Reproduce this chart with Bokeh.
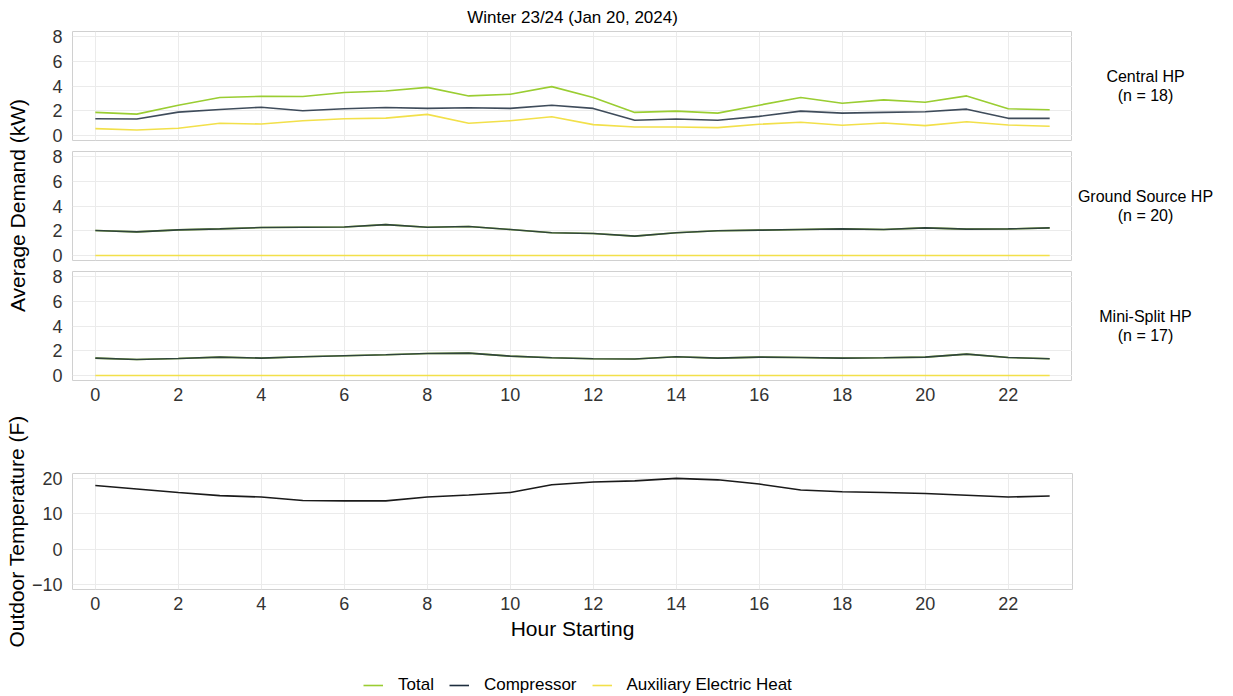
from bokeh.plotting import figure
from bokeh.layouts import column, row
from bokeh.models import Range1d, FixedTicker, Label, Legend, LegendItem, Title
from bokeh.embed import file_html
from bokeh.resources import INLINE

# ---------------- data ----------------
hours = [0, 1, 2, 3, 4, 5, 6, 7, 8, 9, 10, 11, 12, 13, 14, 15, 16, 17, 18, 19, 20, 21, 22, 23]

central_total = [1.87, 1.73, 2.45, 3.07, 3.17, 3.15, 3.47, 3.60, 3.89, 3.20, 3.33, 3.95,
                 3.07, 1.87, 1.97, 1.81, 2.45, 3.07, 2.61, 2.88, 2.69, 3.20, 2.16, 2.08]
central_comp = [1.36, 1.33, 1.89, 2.10, 2.29, 2.00, 2.16, 2.27, 2.19, 2.24, 2.19, 2.45,
                2.19, 1.23, 1.33, 1.23, 1.55, 1.97, 1.81, 1.87, 1.92, 2.13, 1.39, 1.39]
central_aux = [0.56, 0.45, 0.59, 0.99, 0.93, 1.20, 1.36, 1.41, 1.71, 0.99, 1.20, 1.52,
               0.88, 0.69, 0.69, 0.64, 0.91, 1.07, 0.83, 1.01, 0.80, 1.12, 0.85, 0.75]

ground_total = [2.02, 1.91, 2.07, 2.15, 2.26, 2.29, 2.31, 2.50, 2.29, 2.34, 2.10, 1.84,
                1.78, 1.57, 1.84, 2.00, 2.05, 2.10, 2.15, 2.10, 2.23, 2.13, 2.15, 2.23]
ground_comp = [2.02, 1.91, 2.07, 2.15, 2.26, 2.29, 2.31, 2.50, 2.29, 2.34, 2.10, 1.84,
               1.78, 1.57, 1.84, 2.00, 2.05, 2.10, 2.15, 2.10, 2.23, 2.13, 2.15, 2.23]
ground_aux = [0.0, 0.0, 0.0, 0.0, 0.0, 0.0, 0.0, 0.0, 0.0, 0.0, 0.0, 0.0,
              0.0, 0.0, 0.0, 0.0, 0.0, 0.0, 0.0, 0.0, 0.0, 0.0, 0.0, 0.0]

mini_total = [1.41, 1.30, 1.38, 1.49, 1.41, 1.52, 1.60, 1.68, 1.78, 1.81, 1.57, 1.44,
              1.36, 1.33, 1.52, 1.41, 1.49, 1.46, 1.41, 1.44, 1.49, 1.73, 1.46, 1.36]
mini_comp = [1.41, 1.30, 1.38, 1.49, 1.41, 1.52, 1.60, 1.68, 1.78, 1.81, 1.57, 1.44,
             1.36, 1.33, 1.52, 1.41, 1.49, 1.46, 1.41, 1.44, 1.49, 1.73, 1.46, 1.36]
mini_aux = [0.0, 0.0, 0.0, 0.0, 0.0, 0.0, 0.0, 0.0, 0.0, 0.0, 0.0, 0.0,
            0.0, 0.0, 0.0, 0.0, 0.0, 0.0, 0.0, 0.0, 0.0, 0.0, 0.0, 0.0]

outdoor_temp = [18.1, 17.1, 16.1, 15.2, 14.8, 13.8, 13.7, 13.7, 14.8, 15.4, 16.1, 18.3,
                19.1, 19.4, 20.1, 19.7, 18.5, 16.8, 16.3, 16.1, 15.8, 15.3, 14.8, 15.1]

panel_names = ["Central HP\n(n = 18)", "Ground Source HP\n(n = 20)", "Mini-Split HP\n(n = 17)"]
series_names = ["Total", "Compressor", "Auxiliary Electric Heat"]
hour_ticks = [0, 2, 4, 6, 8, 10, 12, 14, 16, 18, 20, 22]
kw_ticks = [0, 2, 4, 6, 8]
temp_ticks = [-10, 0, 10, 20]
title_text = "Winter 23/24 (Jan 20, 2024)"

# ---------------- style ----------------
FONT = "Liberation Sans"
C_TOTAL = "#9acd32"
C_COMP = "#1d2d3e"
C_AUX = "#f2e04a"
C_TEMP = "#1a1a1a"
GRID = "#ebebeb"
BORDER = "#d0d0d0"
TICK_COLOR = "#333333"
LW = 1.6

x_range = Range1d(-0.55, 23.55)


def style(p, show_x=True):
    p.outline_line_color = BORDER
    p.outline_line_width = 1
    p.background_fill_color = "white"
    p.border_fill_color = "white"
    for g in p.xgrid + p.ygrid:
        g.grid_line_color = GRID
        g.grid_line_width = 1
    for ax in p.xaxis + p.yaxis:
        ax.axis_line_color = None
        ax.major_tick_line_color = None
        ax.minor_tick_line_color = None
        ax.major_tick_out = 0
        ax.major_tick_in = 0
        ax.minor_tick_out = 0
        ax.minor_tick_in = 0
        ax.major_label_text_font = FONT
        ax.major_label_text_font_size = "18px"
        ax.major_label_text_color = TICK_COLOR
        ax.axis_label_text_font = FONT
        ax.axis_label_text_font_size = "21px"
        ax.axis_label_text_font_style = "normal"
        ax.axis_label_text_color = "black"
    p.xaxis.ticker = FixedTicker(ticks=hour_ticks)
    p.xaxis.major_label_standoff = 7
    p.yaxis.major_label_standoff = 10
    if not show_x:
        p.xaxis.visible = False


def demand_panel(total, comp, aux, name, height, top, bottom, show_x):
    yr = Range1d(-0.4, 8.4)
    p = figure(width=1042, height=height, x_range=x_range, y_range=yr,
               toolbar_location=None, output_backend="svg",
               min_border_left=42, min_border_right=0,
               min_border_top=top, min_border_bottom=bottom)
    p.line(hours, total, line_color=C_TOTAL, line_width=LW)
    p.line(hours, comp, line_color=C_COMP, line_width=LW, line_alpha=0.85)
    p.line(hours, aux, line_color=C_AUX, line_width=LW)
    style(p, show_x)
    p.yaxis.ticker = FixedTicker(ticks=kw_ticks)

    # strip label on the right
    s = figure(width=161, height=height, x_range=Range1d(0, 161), y_range=yr,
               toolbar_location=None, output_backend="svg", x_axis_type=None,
               y_axis_type=None, min_border_left=0, min_border_right=0,
               min_border_top=top, min_border_bottom=bottom)
    s.outline_line_color = None
    s.grid.visible = False
    s.add_layout(Label(x=73, y=4.0, text=name, text_align="center",
                       text_baseline="middle", text_font=FONT, text_font_size="16px",
                       text_line_height=1.1, text_color="black"))
    return p, s


p1, s1 = demand_panel(central_total, central_comp, central_aux, panel_names[0], 145, 31, 5, False)
p1.title = Title(text=title_text, align="center", text_font=FONT, text_font_size="17px",
                 text_font_style="normal", text_color="black", standoff=10)
p2, s2 = demand_panel(ground_total, ground_comp, ground_aux, panel_names[1], 120, 6, 5, False)
p3, s3 = demand_panel(mini_total, mini_comp, mini_aux, panel_names[2], 145, 6, 30, True)

# left label spanning the three demand panels
lab = figure(width=30, height=410, x_range=Range1d(0, 30), y_range=Range1d(0, 410),
             toolbar_location=None, output_backend="svg", x_axis_type=None, y_axis_type=None,
             min_border=0)
lab.outline_line_color = None
lab.grid.visible = False
lab.add_layout(Label(x=17, y=205, text="Average Demand (kW)", angle=90, angle_units="deg",
                     text_align="center", text_baseline="middle", text_font=FONT,
                     text_font_size="21px", text_color="black"))

# temperature panel
p4 = figure(width=1233, height=240, x_range=x_range, y_range=Range1d(-11.5, 21.5),
            toolbar_location=None, output_backend="svg",
            min_border_left=72, min_border_right=161, min_border_top=63, min_border_bottom=61)
p4.line(hours, outdoor_temp, line_color=C_TEMP, line_width=LW)
style(p4, True)
p4.yaxis.ticker = FixedTicker(ticks=temp_ticks)
p4.xaxis.axis_label = "Hour Starting"
p4.xaxis.axis_label_standoff = 4
p4.yaxis.axis_label = "Outdoor Temperature (F)"
p4.yaxis.axis_label_standoff = 1

# legend strip
lg = figure(width=1233, height=46, x_range=Range1d(0, 1), y_range=Range1d(0, 1),
            toolbar_location=None, output_backend="svg", x_axis_type=None, y_axis_type=None,
            min_border=0)
lg.outline_line_color = None
lg.grid.visible = False
r_t = lg.line(hours, central_total, line_color=C_TOTAL, line_width=LW, visible=False)
r_c = lg.line(hours, central_comp, line_color=C_COMP, line_width=LW, visible=False)
r_a = lg.line(hours, central_aux, line_color=C_AUX, line_width=LW, visible=False)
legend = Legend(items=[LegendItem(label=series_names[0], renderers=[r_t]),
                       LegendItem(label=series_names[1], renderers=[r_c]),
                       LegendItem(label=series_names[2], renderers=[r_a])],
                orientation="horizontal", location=(291, 1), padding=0, margin=0,
                spacing=15, label_standoff=15, glyph_width=20, glyph_height=20,
                label_text_font=FONT, label_text_font_size="17px", label_text_color="black",
                border_line_color=None, background_fill_alpha=0,
                inactive_fill_alpha=0)
lg.add_layout(legend)

layout = column(row(lab, column(row(p1, s1), row(p2, s2), row(p3, s3))), p4, lg)

open("out.html", "w").write(file_html(layout, INLINE))
